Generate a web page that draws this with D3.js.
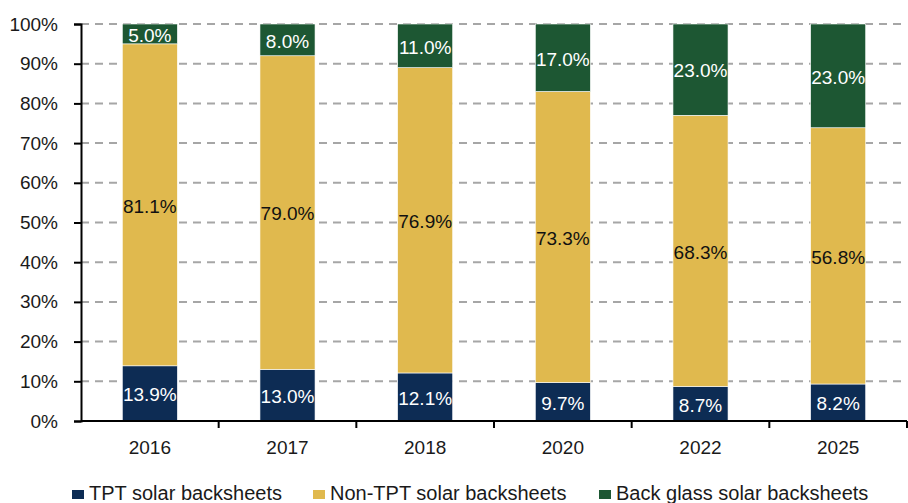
<!DOCTYPE html>
<html>
<head>
<meta charset="utf-8">
<script src="https://cdn.jsdelivr.net/npm/d3@7"></script>
<style>
  html, body { margin: 0; padding: 0; background: #fff; }
  svg { display: block; font-family: "Liberation Sans", Arial, sans-serif; }
</style>
</head>
<body>
<svg id="chart" width="908" height="503"></svg>
<script>
// Market share of solar module back covers by year
const years = ["2016", "2017", "2018", "2020", "2022", "2025"];
const tptValues = [13.9, 13.0, 12.1, 9.7, 8.7, 8.2];
const nonTptValues = [81.1, 79.0, 76.9, 73.3, 68.3, 56.8];
const backGlassValues = [5.0, 8.0, 11.0, 17.0, 23.0, 23.0];
const seriesNames = ["TPT solar backsheets", "Non-TPT solar backsheets", "Back glass solar backsheets"];
const yTicks = [0, 0.1, 0.2, 0.3, 0.4, 0.5, 0.6, 0.7, 0.8, 0.9, 1.0];

const colors = ["#0d2c54", "#e0b94e", "#1d5733"];
const labelColors = ["#ffffff", "#111111", "#ffffff"];
const keys = ["tpt", "nonTpt", "glass"];

const rows = years.map((y, i) => ({
  year: y, tpt: tptValues[i], nonTpt: nonTptValues[i], glass: backGlassValues[i]
}));

const svg = d3.select("#chart");
const margin = { left: 81, right: 1, top: 24, bottom: 82 };
const W = 908, H = 503;
const FONT = 19;

const x = d3.scaleBand().domain(years).range([margin.left, W - margin.right]).paddingInner(0.6).paddingOuter(0.3);
const xBounds = d3.scaleBand().domain(years).range([margin.left, W - margin.right]);
const y = d3.scaleLinear().domain([0, 1]).range([H - margin.bottom, margin.top]);

// 100% stacked layout
const stacked = d3.stack().keys(keys).offset(d3.stackOffsetExpand)(rows);

// dashed gridlines
svg.append("g").selectAll("line")
  .data(yTicks.filter(t => t > 0))
  .join("line")
  .attr("x1", margin.left).attr("x2", W - margin.right)
  .attr("y1", d => y(d)).attr("y2", d => y(d))
  .attr("stroke", "#a6a6a6").attr("stroke-width", 2)
  .attr("stroke-dasharray", "8,6");

// bars
const layers = svg.append("g").selectAll("g")
  .data(stacked).join("g")
  .attr("fill", (d, i) => colors[i]);

layers.selectAll("rect")
  .data(d => d)
  .join("rect")
  .attr("x", d => x(d.data.year))
  .attr("width", x.bandwidth())
  .attr("y", d => y(d[1]))
  .attr("height", d => y(d[0]) - y(d[1]))
  .attr("stroke", "#ffffff").attr("stroke-width", 0.6);

// value labels
stacked.forEach((layer, i) => {
  svg.append("g").selectAll("text")
    .data(layer).join("text")
    .attr("x", d => x(d.data.year) + x.bandwidth() / 2)
    .attr("y", d => (y(d[0]) + y(d[1])) / 2 + 1)
    .attr("dy", "0.36em")
    .attr("text-anchor", "middle")
    .attr("font-size", FONT)
    .attr("fill", labelColors[i])
    .text(d => d.data[keys[i]].toFixed(1) + "%");
});

// y axis
const yAxis = d3.axisLeft(y).tickValues(yTicks).tickFormat(d3.format(".0%")).tickSize(7).tickPadding(16);
const gy = svg.append("g").attr("transform", `translate(${margin.left},0)`).call(yAxis);
gy.select(".domain").attr("stroke", "#000").attr("stroke-width", 2);
gy.selectAll(".tick line").attr("stroke", "#000").attr("stroke-width", 2);
gy.selectAll(".tick text").attr("font-size", FONT).attr("fill", "#1a1a1a")
  .attr("font-family", "'Liberation Sans', Arial, sans-serif");

// x axis with ticks on category boundaries
const gx = svg.append("g").attr("transform", `translate(0,${y(0)})`);
gx.append("line")
  .attr("x1", margin.left).attr("x2", W - margin.right)
  .attr("stroke", "#000").attr("stroke-width", 2);
const boundaries = years.map(d => xBounds(d) + xBounds.bandwidth());
gx.selectAll(".bt").data(boundaries).join("line")
  .attr("class", "bt")
  .attr("x1", d => d).attr("x2", d => d)
  .attr("y1", 0).attr("y2", 7)
  .attr("stroke", "#000").attr("stroke-width", 2);
gx.selectAll("text").data(years).join("text")
  .attr("x", d => xBounds(d) + xBounds.bandwidth() / 2)
  .attr("y", 33)
  .attr("text-anchor", "middle")
  .attr("font-size", FONT).attr("fill", "#1a1a1a")
  .text(d => d);

// legend along the bottom edge
const legendX = [72, 313, 599];
const legend = svg.append("g").selectAll("g")
  .data(seriesNames).join("g")
  .attr("transform", (d, i) => `translate(${legendX[i]},500)`);
legend.append("rect")
  .attr("x", 0).attr("y", -10).attr("width", 12).attr("height", 9)
  .attr("fill", (d, i) => colors[i]);
legend.append("text")
  .attr("x", 17).attr("y", 0)
  .attr("font-size", 20).attr("fill", "#1a1a1a")
  .text(d => d);
</script>
</body>
</html>
